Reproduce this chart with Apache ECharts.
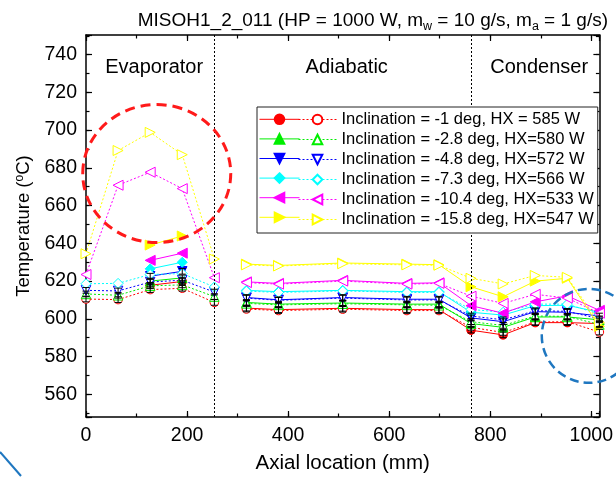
<!DOCTYPE html>
<html>
<head>
<meta charset="utf-8">
<script src="https://cdn.jsdelivr.net/npm/echarts@6/dist/echarts.min.js"></script>
<style>
  html, body { margin: 0; padding: 0; background: #fff; }
  #chart { width: 616px; height: 479px; }
</style>
</head>
<body>
<div id="chart"></div>
<script>
// Thermocouple stations along the heat pipe (mm)
const evapX = [0, 63.5, 127, 190.5, 254];
const evapPairX = [127, 190.5];
const restX = [317.5, 381, 508, 635, 698.5, 762, 825.5, 889, 952.5, 1016];

const seriesLabels = [
  'Inclination = -1 deg, HX = 585 W',
  'Inclination = -2.8 deg, HX=580 W',
  'Inclination = -4.8 deg, HX=572 W',
  'Inclination = -7.3 deg, HX=566 W',
  'Inclination = -10.4 deg, HX=533 W',
  'Inclination = -15.8 deg, HX=547 W'
];

// Filled markers / solid lines: evaporator pair, then adiabatic + condenser
const solidEvap = [
  [617.8, 619.8],
  [620.0, 621.7],
  [622.6, 625.2],
  [626.5, 630.0],
  [631.0, 634.8],
  [639.1, 643.9]
];
const solidRest = [
  [605.7, 604.9, 605.6, 604.9, 604.9, 594.0, 591.5, 598.0, 598.0, 597.5],
  [608.7, 607.8, 608.4, 607.8, 607.8, 597.5, 595.5, 601.0, 601.0, 599.5],
  [611.3, 610.1, 611.3, 610.4, 610.4, 600.5, 598.5, 603.8, 603.5, 601.5],
  [615.1, 614.4, 615.1, 614.4, 614.4, 603.5, 602.0, 607.0, 607.2, 603.5],
  [619.6, 618.8, 620.4, 618.8, 619.1, 607.0, 603.0, 609.0, 612.2, 604.5],
  [629.0, 628.3, 629.6, 629.0, 628.7, 617.0, 611.7, 620.0, 621.5, 596.0]
];

// Open markers / dotted lines
const dottedEvap = [
  [610.5, 610.2, 615.5, 616.2, 608.7],
  [613.2, 612.5, 617.5, 618.0, 611.8],
  [615.1, 614.8, 619.5, 620.5, 614.2],
  [618.6, 618.8, 623.5, 624.0, 616.9],
  [623.5, 670.8, 677.7, 669.0, 621.8],
  [634.5, 689.2, 698.8, 687.0, 631.7]
];
const dottedRest = [
  [605.2, 604.4, 605.1, 604.4, 604.4, 595.5, 592.8, 598.3, 598.5, 593.0],
  [608.2, 607.4, 608.0, 607.4, 607.2, 598.5, 596.5, 601.5, 601.3, 597.0],
  [611.0, 609.8, 611.0, 610.0, 610.0, 601.5, 599.5, 604.3, 604.0, 600.0],
  [614.7, 614.0, 614.8, 614.0, 614.0, 605.0, 603.5, 607.8, 607.8, 602.5],
  [619.2, 618.4, 620.0, 618.4, 618.8, 612.0, 608.2, 613.0, 611.0, 603.0],
  [628.6, 628.0, 629.2, 628.6, 628.4, 621.5, 618.5, 623.0, 622.0, 598.0]
];

// Half-length of the measurement error bars (deg C) on the first three runs
const errorHalf = 1.5;

const xTicks = [0, 200, 400, 600, 800, 1000];
const yTicks = [560, 580, 600, 620, 640, 660, 680, 700, 720, 740];
const sectionNames = ['Evaporator', 'Adiabatic', 'Condenser'];
const sectionBounds = [0, 254, 762, 1016];

// ---- styling ----
const FONT = '"Liberation Sans", Arial, sans-serif';
const colors = ['#FF0000', '#00EE00', '#0000FF', '#00FFFF', '#FF00FF', '#FFFF00'];
const symbols = ['circle', 'triangle', 'triangle', 'diamond', 'triangle', 'triangle'];
const rotates = [0, 0, 180, 0, 90, -90];
const sizes = [8.5, 9.5, 9.5, 10, 10, 10];

const zip = (xs, ys) => xs.map((x, i) => [x, ys[i]]);
const solidNames = seriesLabels.map(s => s + ' (solid)');

const series = [];
seriesLabels.forEach((label, i) => {
  const base = {
    type: 'line',
    xAxisIndex: 0, yAxisIndex: 0,
    symbol: symbols[i], symbolRotate: rotates[i], symbolSize: sizes[i],
    animation: false, silent: true,
    emphasis: { disabled: true }
  };
  const solid = Object.assign({}, base, {
    name: solidNames[i],
    lineStyle: { color: colors[i], width: 1, type: 'solid' },
    itemStyle: { color: colors[i], borderColor: colors[i], borderWidth: 1 }
  });
  const dotted = Object.assign({}, base, {
    name: label,
    lineStyle: { color: colors[i], width: 1, type: [2, 2] },
    itemStyle: { color: '#ffffff', borderColor: colors[i], borderWidth: 1 }
  });
  series.push(Object.assign({}, solid, { data: zip(evapPairX, solidEvap[i]) }));
  series.push(Object.assign({}, solid, { data: zip(restX, solidRest[i]) }));
  series.push(Object.assign({}, dotted, { data: zip(evapX, dottedEvap[i]) }));
  series.push(Object.assign({}, dotted, { data: zip(restX, dottedRest[i]) }));
});

// section separators and section titles
series[0].markLine = {
  silent: true, symbol: 'none', animation: false,
  label: { show: false },
  lineStyle: { color: '#000', width: 1, type: [2, 2] },
  data: [{ xAxis: sectionBounds[1] }, { xAxis: sectionBounds[2] }]
};
series[0].markArea = {
  silent: true, animation: false,
  itemStyle: { color: 'rgba(0,0,0,0)' },
  label: { show: true, position: 'insideTop', distance: 22, offset: [4, 0], color: '#000', fontSize: 20, fontFamily: FONT },
  data: sectionNames.map((n, k) => [{ name: n, xAxis: sectionBounds[k] }, { xAxis: sectionBounds[k + 1] }])
};

// error bars for the three lowest runs
const errPts = [];
[0, 1, 2].forEach(i => {
  zip(evapPairX, solidEvap[i]).forEach(p => errPts.push(p));
  zip(restX, solidRest[i]).forEach(p => errPts.push(p));
  zip(evapX, dottedEvap[i]).forEach(p => errPts.push(p));
  zip(restX, dottedRest[i]).forEach(p => errPts.push(p));
});
series.push({
  type: 'custom', xAxisIndex: 0, yAxisIndex: 0, silent: true, animation: false, z: 5,
  data: errPts,
  renderItem: (params, api) => {
    const x = api.value(0), y = api.value(1);
    const a = api.coord([x, y + errorHalf]);
    const b = api.coord([x, y - errorHalf]);
    const w = 3.5;
    const st = { stroke: '#000', lineWidth: 1 };
    return {
      type: 'group',
      children: [
        { type: 'line', shape: { x1: a[0], y1: a[1], x2: b[0], y2: b[1] }, style: st },
        { type: 'line', shape: { x1: a[0] - w, y1: a[1], x2: a[0] + w, y2: a[1] }, style: st },
        { type: 'line', shape: { x1: b[0] - w, y1: b[1], x2: b[0] + w, y2: b[1] }, style: st }
      ]
    };
  }
});

const labelFmt = ticks => v => (ticks.indexOf(Math.round(v * 1000) / 1000) >= 0 ? String(v) : '');

function xAxisDef(step, position, major, withLabels) {
  return {
    type: 'value', min: sectionBounds[0], max: sectionBounds[3], position,
    minInterval: step, maxInterval: step,
    axisLine: { show: major, onZero: false, lineStyle: { color: '#000', width: 1.5 } },
    axisTick: { show: true, inside: true, length: major ? 6 : 3.5, lineStyle: { color: '#000', width: 1.2 } },
    axisLabel: withLabels
      ? { show: true, fontSize: 19.5, color: '#000', fontFamily: FONT, margin: 9, formatter: labelFmt(xTicks) }
      : { show: false },
    splitLine: { show: false }
  };
}
function yAxisDef(step, position, major, withLabels) {
  return {
    type: 'value', min: 548, max: 750.4, position,
    minInterval: step, maxInterval: step,
    axisLine: { show: major, onZero: false, lineStyle: { color: '#000', width: 1.5 } },
    axisTick: { show: true, inside: true, length: major ? 6 : 3.5, lineStyle: { color: '#000', width: 1.2 } },
    axisLabel: withLabels
      ? { show: true, fontSize: 19.5, color: '#000', fontFamily: FONT, margin: 9, formatter: labelFmt(yTicks) }
      : { show: false },
    splitLine: { show: false }
  };
}

const xAxes = [
  xAxisDef(200, 'bottom', true, true),
  xAxisDef(100, 'bottom', false, false),
  xAxisDef(200, 'top', true, false),
  xAxisDef(100, 'top', false, false)
];
xAxes[0].name = 'Axial location (mm)';
xAxes[0].nameLocation = 'middle';
xAxes[0].nameGap = 36;
xAxes[0].nameTextStyle = { fontSize: 20.5, color: '#000', fontFamily: FONT };

const yAxes = [
  yAxisDef(20, 'left', true, true),
  yAxisDef(10, 'left', false, false),
  yAxisDef(20, 'right', true, false),
  yAxisDef(10, 'right', false, false)
];
yAxes[0].name = 'Temperature ({sup|o}C)';
yAxes[0].nameLocation = 'middle';
yAxes[0].nameGap = 49;
yAxes[0].nameTextStyle = {
  fontSize: 18.5, color: '#000', fontFamily: FONT,
  rich: { sup: { fontSize: 12, fontFamily: FONT, color: '#000', padding: [0, 0, 9, 0] } }
};

const legendText = { fontSize: 16.5, lineHeight: 16, color: '#000', fontFamily: FONT };

const option = {
  backgroundColor: '#ffffff',
  animation: false,
  title: {
    text: 'MISOH1_2_011 (HP = 1000 W, m{sub|w} = 10 g/s, m{sub|a} = 1 g/s)',
    right: 3, top: 4,
    textStyle: {
      fontSize: 19, fontWeight: 'normal', color: '#000', fontFamily: FONT,
      rich: { sub: { fontSize: 12.5, fontFamily: FONT, color: '#000', padding: [11, 0, 0, 0] } }
    }
  },
  grid: { left: 86, right: 9.5, top: 35, bottom: 56, containLabel: false },
  xAxis: xAxes,
  yAxis: yAxes,
  legend: [
    {
      data: solidNames, left: 259, top: 113.5, orient: 'vertical',
      itemWidth: 40, itemHeight: 12, itemGap: 8, padding: 0,
      formatter: () => '', selectedMode: false, z: 7,
      lineStyle: { width: 1 },
      textStyle: legendText
    },
    {
      data: seriesLabels, left: 257, top: 107, orient: 'vertical',
      itemWidth: 38, itemHeight: 12, itemGap: 3, padding: [4, 4, 5, 41],
      borderColor: '#222', borderWidth: 1, backgroundColor: '#fff',
      selectedMode: false, z: 6,
      lineStyle: { width: 1 },
      textStyle: legendText
    }
  ],
  series
};

const chart = echarts.init(document.getElementById('chart'), null, { renderer: 'canvas' });
chart.setOption(option);

// call-out rings, anchored in data space
const toPx = p => chart.convertToPixel({ xAxisIndex: 0, yAxisIndex: 0 }, p);
const redC = toPx([140, 677]);
const blueC = toPx([995, 591]);
chart.setOption({
  graphic: [
    { type: 'ellipse', silent: true, z: 20,
      shape: { cx: redC[0], cy: redC[1], rx: 74, ry: 69 },
      style: { fill: 'none', stroke: '#FF1A1A', lineWidth: 3, lineDash: [10, 6] } },
    { type: 'circle', silent: true, z: 20,
      shape: { cx: blueC[0], cy: blueC[1], r: 47 },
      style: { fill: 'none', stroke: '#1F77C0', lineWidth: 2.5, lineDash: [9, 5] } },
    { type: 'line', silent: true, z: 20,
      shape: { x1: 0, y1: 452, x2: 21, y2: 476 },
      style: { stroke: '#1F77C0', lineWidth: 2 } }
  ]
});
</script>
</body>
</html>
